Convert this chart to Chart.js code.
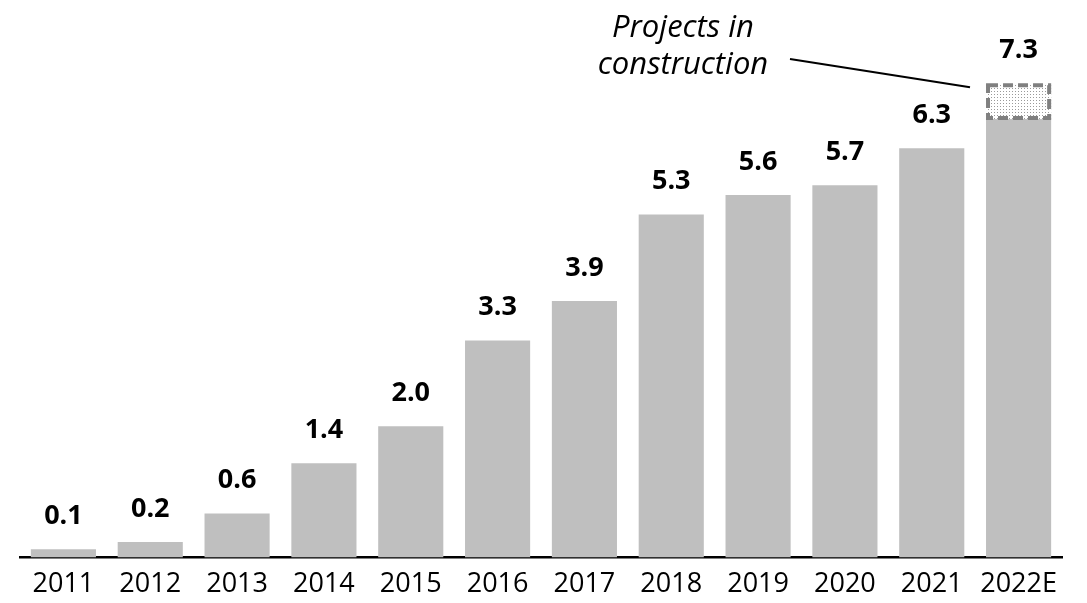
<!DOCTYPE html>
<html>
<head>
<meta charset="utf-8">
<script src="https://cdn.jsdelivr.net/npm/chart.js@4.4.0/dist/chart.umd.min.js"></script>
<style>
  html, body { margin: 0; padding: 0; background: #fff; }
  #wrap { width: 1087px; height: 603px; }
</style>
</head>
<body>
<div id="wrap"><canvas id="capChart" width="1087" height="603"></canvas></div>
<script>
// anni e valori
const years = ['2011', '2012', '2013', '2014', '2015', '2016', '2017', '2018', '2019', '2020', '2021', '2022E'];
const operating = [0.13, 0.24, 0.68, 1.45, 2.02, 3.34, 3.95, 5.28, 5.58, 5.73, 6.30, 6.75];
const inConstruction = [0, 0, 0, 0, 0, 0, 0, 0, 0, 0, 0, 0.55];
const totalLabels = ['0.1', '0.2', '0.6', '1.4', '2.0', '3.3', '3.9', '5.3', '5.6', '5.7', '6.3', '7.3'];
const noteLines = ['Projects in', 'construction'];

// motivo puntinato per la parte in costruzione
function dotPattern() {
    const c = document.createElement('canvas');
    c.width = 3; c.height = 3;
    const g = c.getContext('2d');
    g.fillStyle = '#ffffff';
    g.fillRect(0, 0, 3, 3);
    g.fillStyle = '#9a9a9a';
    g.fillRect(1, 1, 1, 1);
    return g.createPattern(c, 'repeat');
}

const barOverlay = {
    id: 'barOverlay',
    afterDatasetsDraw(chart) {
        const ctx = chart.ctx;
        const base = chart.getDatasetMeta(0).data;
        const top = chart.getDatasetMeta(1).data;

        // bordo tratteggiato sul pezzo "in costruzione"
        const last = top[top.length - 1];
        const l = last.x - last.width / 2 + 2, r = last.x + last.width / 2 - 2;
        ctx.save();
        ctx.strokeStyle = '#808080';
        ctx.lineWidth = 4;
        ctx.setLineDash([10, 5]);
        ctx.strokeRect(l, last.y + 2, r - l, last.base - last.y - 3);
        ctx.restore();

        // etichette dei totali
        ctx.save();
        ctx.fillStyle = '#000';
        ctx.font = 'bold 27px "Open Sans"';
        ctx.textAlign = 'center';
        ctx.textBaseline = 'middle';
        totalLabels.forEach((txt, i) => {
            const el = inConstruction[i] > 0 ? top[i] : base[i];
            ctx.fillText(txt, el.x, el.y - 33);
        });

        // nota con linea di richiamo
        ctx.font = 'italic 31px "Open Sans"';
        ctx.fillText(noteLines[0], 683, 28);
        ctx.fillText(noteLines[1], 683, 65);
        ctx.strokeStyle = '#000';
        ctx.lineWidth = 2;
        ctx.beginPath();
        ctx.moveTo(790, 59);
        ctx.lineTo(last.x - last.width / 2 - 16, last.y + 4);
        ctx.stroke();
        ctx.restore();
    }
};

new Chart(document.getElementById('capChart'), {
    type: 'bar',
    data: {
        labels: years,
        datasets: [
            {
                label: 'Operating',
                data: operating,
                backgroundColor: '#bfbfbf',
                borderWidth: 0,
                categoryPercentage: 1,
                barPercentage: 0.75
            },
            {
                label: 'In construction',
                data: inConstruction,
                backgroundColor: dotPattern(),
                borderWidth: 0,
                categoryPercentage: 1,
                barPercentage: 0.75
            }
        ]
    },
    options: {
        responsive: false,
        animation: false,
        layout: { padding: { left: 20, right: 25, top: 0, bottom: 0 } },
        plugins: { legend: { display: false }, tooltip: { enabled: false } },
        scales: {
            x: {
                stacked: true,
                grid: { display: false },
                border: { display: true, color: '#000', width: 2.5 },
                ticks: { color: '#000', font: { family: 'Open Sans', size: 27 }, padding: 2.5, maxRotation: 0 }
            },
            y: {
                stacked: true,
                display: false,
                min: 0,
                max: 8.58
            }
        }
    },
    plugins: [barOverlay]
});
</script>
</body>
</html>
